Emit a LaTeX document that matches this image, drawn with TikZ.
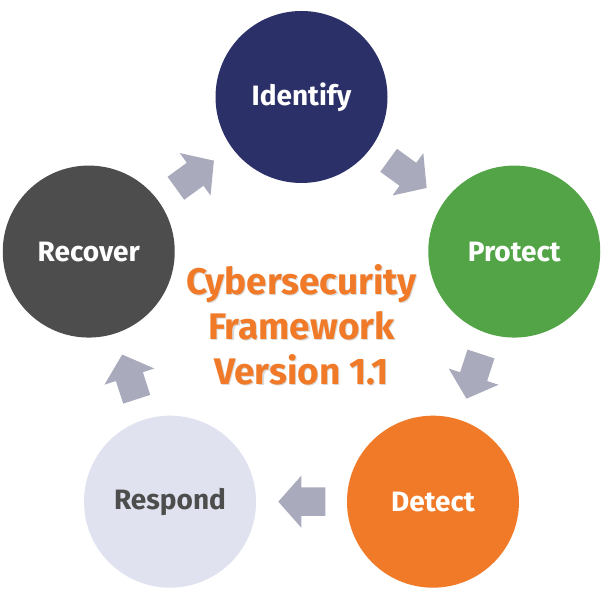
\documentclass[tikz,border=0pt]{standalone}
\usepackage{fontspec}
\setmainfont{Fira Sans}
\usetikzlibrary{calc,shapes.arrows}

\definecolor{idblue}{HTML}{2B3068}
\definecolor{prgreen}{HTML}{52A447}
\definecolor{dtorange}{HTML}{F07A28}
\definecolor{rslav}{HTML}{E0E2EF}
\definecolor{rcgray}{HTML}{4D4D4D}
\definecolor{arrgray}{HTML}{A9ABBC}

\tikzset{
  phase/.style={circle,minimum size=172pt,inner sep=0pt,text=white,
    font=\fontsize{28}{34}\selectfont\bfseries},
  blockarrow/.style={single arrow,fill=arrgray,draw=none,inner xsep=0pt,
    inner ysep=14pt,minimum height=47pt,single arrow head extend=12pt,
    single arrow tip angle=97,single arrow head indent=0pt}
}

\begin{document}
\begin{tikzpicture}[x=1pt,y=1pt]
    \useasboundingbox (0,0) rectangle (613,613);

    % centre of the ring
    \coordinate (O) at (301.5,292.3);

    % the five phases
    \node[phase,fill=idblue] (identify) at ($(O)+(90:223.7)$) {Identify};
    \node[phase,fill=prgreen] (protect) at ($(O)+(18:223.7)$) {Protect};
    \node[phase,fill=dtorange] (detect) at ($(O)+(-54:223.7)$) {Detect};
    \node[phase,fill=rslav,text=rcgray] (respond) at ($(O)+(-126:223.7)$) {Respond};
    \node[phase,fill=rcgray] (recover) at ($(O)+(162:223.7)$) {Recover};

    % arrows between the phases
    \node[blockarrow,rotate=36] (a1) at ($(recover)!0.475!(identify)$) {};
    \node[blockarrow,rotate=-36] (a2) at ($(identify)!0.475!(protect)$) {};
    \node[blockarrow,rotate=-108] (a3) at ($(protect)!0.475!(detect)$) {};
    \node[blockarrow,rotate=180] (a4) at ($(detect)!0.475!(respond)$) {};
    \node[blockarrow,rotate=108] (a5) at ($(respond)!0.475!(recover)$) {};

    % title in the middle
    \node[align=center,text=black!15,font=\fontsize{37}{45}\selectfont\bfseries]
      (titleshadow) at ($(O)+(1.2,-5.2)$) {Cybersecurity\\Framework\\Version 1.1};
    \node[align=center,text=dtorange,font=\fontsize{37}{45}\selectfont\bfseries]
      (title) at ($(O)+(0,-4)$) {Cybersecurity\\Framework\\Version 1.1};
\end{tikzpicture}
\end{document}
